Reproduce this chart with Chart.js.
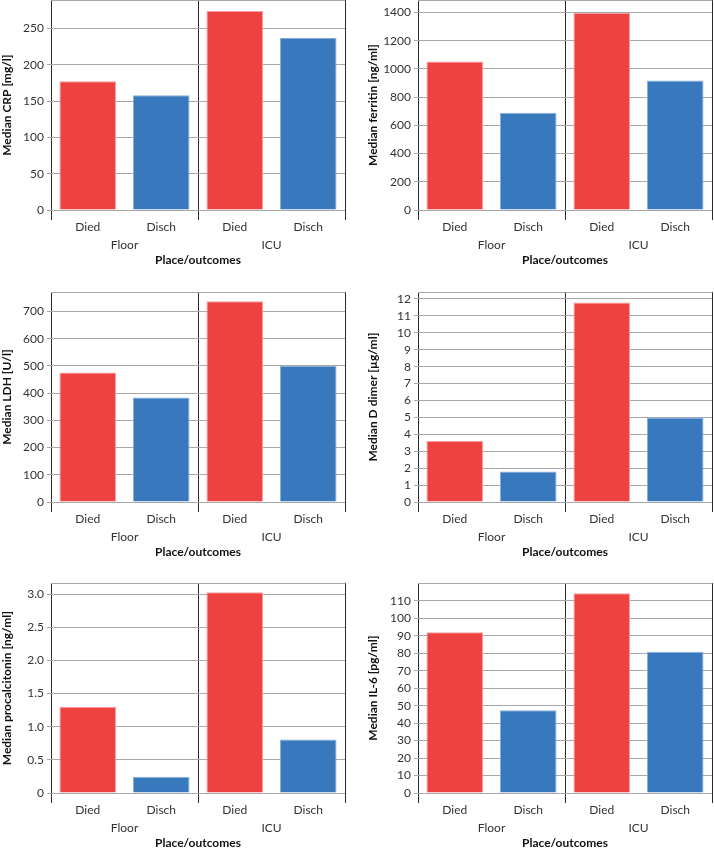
<!DOCTYPE html>
<html>
<head>
<meta charset="utf-8">
<script src="https://cdn.jsdelivr.net/npm/chart.js@4.4.0/dist/chart.umd.min.js"></script>
<style>
  html, body { margin: 0; padding: 0; background: #fff; overflow: hidden; width: 714px; height: 848px; }
  .panel { position: absolute; width: 357px; height: 290px; }
</style>
</head>
<body>
<div class="panel" style="left:0px;top:-10px"><canvas id="c1"></canvas></div>
<div class="panel" style="left:357px;top:-10px"><canvas id="c2"></canvas></div>
<div class="panel" style="left:0px;top:282px"><canvas id="c3"></canvas></div>
<div class="panel" style="left:357px;top:282px"><canvas id="c4"></canvas></div>
<div class="panel" style="left:0px;top:573px"><canvas id="c5"></canvas></div>
<div class="panel" style="left:357px;top:573px"><canvas id="c6"></canvas></div>
<script>
// ---- data ----
const outcomes = ['Died', 'Disch', 'Died', 'Disch'];
const places = ['Floor', 'ICU'];
const xTitle = 'Place/outcomes';

const crpValues = [177.5, 158, 274, 237];
const ferritinValues = [1053, 689, 1396, 918];
const ldhValues = [476, 384, 738, 501];
const ddimerValues = [3.6, 1.81, 11.79, 5.0];
const procalcitoninValues = [1.3, 0.245, 3.03, 0.806];
const il6Values = [92, 47.3, 114.4, 80.9];

const crpTicks = [0, 50, 100, 150, 200, 250];
const ferritinTicks = [0, 200, 400, 600, 800, 1000, 1200, 1400];
const ldhTicks = [0, 100, 200, 300, 400, 500, 600, 700];
const ddimerTicks = [0, 1, 2, 3, 4, 5, 6, 7, 8, 9, 10, 11, 12];
const procalcitoninTicks = [0, 0.5, 1.0, 1.5, 2.0, 2.5, 3.0];
const procalcitoninTickLabels = ['0', '0.5', '1.0', '1.5', '2.0', '2.5', '3.0'];
const il6Ticks = [0, 10, 20, 30, 40, 50, 60, 70, 80, 90, 100, 110];

const crpMax = 289, ferritinMax = 1487, ldhMax = 771, ddimerMax = 12.4, procalcitoninMax = 3.166, il6Max = 120.1;

const titles = ['Median CRP [mg/l]', 'Median ferritin [ng/ml]', 'Median LDH [U/l]',
                'Median D dimer [µg/ml]', 'Median procalcitonin [ng/ml]', 'Median IL-6 [pg/ml]'];

// ---- style ----
const RED = '#EE4242', BLUE = '#3878BC';
const RED_EDGE = '#F6A0A0', BLUE_EDGE = '#86AEDC';
const GRID = '#A8A8A8', AXIS = '#2A2A2A', TXT = '#333333';
const FONT = 'Lato, "Open Sans", sans-serif';

function makePanel(id, values, ticks, tickLabels, yMax, title, isLeft) {
  const labels = tickLabels || ticks.map(String);
  new Chart(document.getElementById(id), {
    type: 'bar',
    data: {
      labels: outcomes,
      datasets: [{
        data: values,
        backgroundColor: [RED, BLUE, RED, BLUE],
        borderColor: [RED_EDGE, BLUE_EDGE, RED_EDGE, BLUE_EDGE],
        borderWidth: 1,
        barPercentage: 0.77,
        categoryPercentage: 1.0
      }]
    },
    options: {
      responsive: true,
      maintainAspectRatio: false,
      animation: false,
      layout: { padding: { top: 10, bottom: 13, left: 0, right: isLeft ? 12 : 2 } },
      plugins: { legend: { display: false }, tooltip: { enabled: false } },
      scales: {
        x: {
          type: 'category',
          position: 'bottom',
          offset: true,
          grid: {
            offset: true,
            drawOnChartArea: true,
            tickLength: 10,
            lineWidth: 1,
            color: (ctx) => (ctx.index === 1 || ctx.index === 3) ? 'rgba(0,0,0,0)' : AXIS
          },
          border: { display: false },
          ticks: { color: TXT, font: { family: FONT, size: 12 }, padding: 0, maxRotation: 0, autoSkip: false },
          afterFit: (s) => { s.height = 28; }
        },
        x2: {
          type: 'category',
          position: 'bottom',
          labels: places,
          offset: true,
          grid: { display: false, drawTicks: false, tickLength: 0 },
          border: { display: false },
          ticks: { color: TXT, font: { family: FONT, size: 12 }, padding: 0, maxRotation: 0, autoSkip: false },
          title: { display: true, text: xTitle, color: '#111', font: { family: FONT, size: 12, weight: 'bold' }, padding: 0 },
          afterFit: (s) => { s.height = 29; }
        },
        y: {
          min: 0,
          max: yMax,
          grid: {
            color: GRID,
            lineWidth: 1,
            tickLength: 4,
            tickColor: (ctx) => ctx.index < ticks.length ? GRID : 'rgba(0,0,0,0)'
          },
          border: { display: false },
          afterBuildTicks: (axis) => {
            axis.ticks = ticks.map(v => ({ value: v })).concat([{ value: yMax }]);
          },
          ticks: {
            color: TXT,
            font: { family: FONT, size: 12 },
            padding: 3,
            autoSkip: false,
            callback: (v, i) => i < labels.length ? labels[i] : ''
          },
          title: {
            display: true, text: title, color: '#111',
            font: { family: FONT, size: 12, weight: 'bold' },
            padding: { top: isLeft ? 0 : 9, bottom: 0 }
          },
          afterFit: (s) => { s.width = isLeft ? 51 : 61; }
        }
      }
    }
  });
}

makePanel('c1', crpValues, crpTicks, null, crpMax, titles[0], true);
makePanel('c2', ferritinValues, ferritinTicks, null, ferritinMax, titles[1], false);
makePanel('c3', ldhValues, ldhTicks, null, ldhMax, titles[2], true);
makePanel('c4', ddimerValues, ddimerTicks, null, ddimerMax, titles[3], false);
makePanel('c5', procalcitoninValues, procalcitoninTicks, procalcitoninTickLabels, procalcitoninMax, titles[4], true);
makePanel('c6', il6Values, il6Ticks, null, il6Max, titles[5], false);
</script>
</body>
</html>
